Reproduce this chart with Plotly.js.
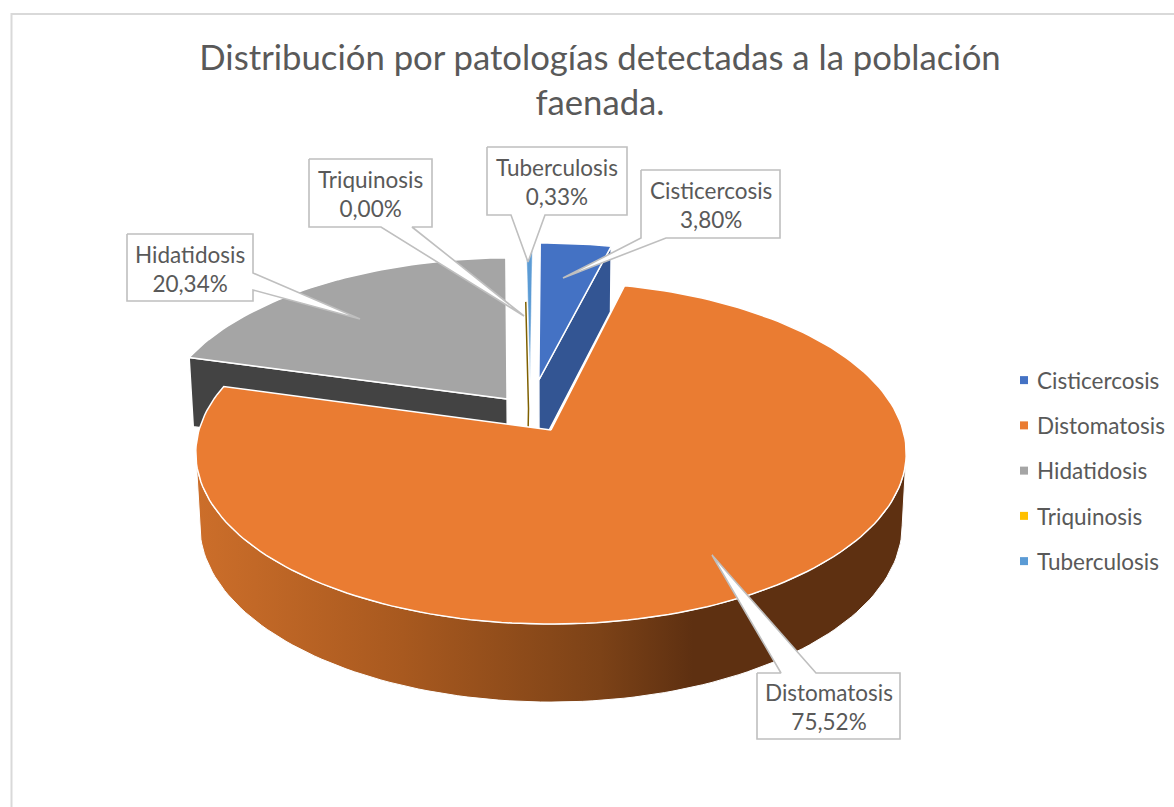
<!DOCTYPE html>
<html><head><meta charset="utf-8">
<script src="https://cdn.plot.ly/plotly-3.0.1.min.js"></script>
<style>html,body{margin:0;padding:0;background:#fff}</style></head>
<body><div id="chart" style="width:1174px;height:807px"></div>
<script>
const categories = ['Cisticercosis','Distomatosis','Hidatidosis','Triquinosis','Tuberculosis'];
const shares = [3.80,75.52,20.34,0.00,0.33];
const topColors = ['#4472C4','#EA7C32','#A5A5A5','#FFC000','#5B9BD5'];
const wallColors = ['#335593','#5E3011','#434343','#7F6000','#41719C'];
const explodeU = [-0.036,0,-0.128,-0.065,-0.062];
const explodeV = [0.31,0,0.189,0.13,0.31];
const calloutBoxes = [[641,780,170,238],[757,900,673,739],[127,253,234,301],[309,432,159,227],[487,627,147,215]];
const calloutSides = ['b','t','r','b','b'];
const calloutBases = [[641,666],[781,816],[273,290],[381,412],[511,545]];
const calloutTips = [[563,278],[712,555],[360,319],[524,316],[528,262]];

const TXT='#595959', FONT='Lato, "Open Sans", sans-serif';
const total = shares.reduce((a,b)=>a+b,0);
function project(u,v,lower){
  const s=1/(1+0.1345*v);
  return lower ? [551+348*u*s, 501.5-173.6*v*s] : [551+352*u*s, 430-168*v*s];
}
function rim(i,deg,lower,r){
  const a=deg*Math.PI/180, k=r===undefined?1:r;
  return project(explodeU[i]+k*Math.sin(a),explodeV[i]+k*Math.cos(a),lower);
}
const spans=[]; let acc=0;
shares.forEach(v=>{const d=v/total*360; spans.push([acc,acc+d]); acc+=d;});

function poly(pts,color,lineColor,lineW,extra){
  return Object.assign({type:'scatter',mode:'lines',x:pts.map(p=>p[0]),y:pts.map(p=>p[1]),fill:'toself',
    fillcolor:color,line:{color:lineColor,width:lineW},showlegend:false,hoverinfo:'skip'},extra||{});
}
function arc(i,a,b,lower){
  const n=Math.max(2,Math.ceil(Math.abs(b-a)/1.5)), out=[];
  for(let j=0;j<=n;j++) out.push(rim(i,a+(b-a)*j/n,lower));
  return out;
}
function topFace(i){ return [project(explodeU[i],explodeV[i])].concat(arc(i,spans[i][0],spans[i][1])).concat([project(explodeU[i],explodeV[i])]); }
function cutFace(i,deg){
  return [project(explodeU[i],explodeV[i]),rim(i,deg),rim(i,deg,true),project(explodeU[i],explodeV[i],true),project(explodeU[i],explodeV[i])];
}
const traces=[];
// walls
traces.push(poly(cutFace(0,spans[0][1]),wallColors[0],'#fff',1.5));
traces.push(poly(cutFace(2,spans[2][0]),wallColors[2],'#fff',1.5));
// tops of the back slices
traces.push(poly(topFace(2),topColors[2],'#fff',1.5));
traces.push(poly(topFace(0),topColors[0],'#fff',1.5));
traces.push(poly(topFace(4),topColors[4],'#fff',0.5));
const tri=[rim(3,spans[3][0],false,0.72),project(explodeU[3],explodeV[3]),project(explodeU[3],explodeV[3]-0.16)];
traces.push({type:'scatter',mode:'lines',x:tri.map(p=>p[0]),y:tri.map(p=>p[1]),line:{color:wallColors[3],width:1.5},showlegend:false,hoverinfo:'skip'});
// orange wall: only the front-facing stretch, between the two silhouette tangents
const oTop=arc(1,97.7,262.3), oBot=arc(1,97.7,262.3,true).reverse();
traces.push(poly(oTop.concat(oBot).concat([oTop[0]]),wallColors[1],'#fff',1,{
  fillgradient:{type:'horizontal',start:197,stop:905,colorscale:[[0,'#CC6E2A'],[0.29,'#A8591F'],[0.57,'#7C4217'],[0.7,'#5E3011'],[1,'#5E3011']]}}));
traces.push(poly(topFace(1),topColors[1],'#fff',1.5));
// callouts
categories.forEach((c,i)=>{
  const [x0,x1,y0,y1]=calloutBoxes[i], b=calloutBases[i], t=calloutTips[i], s=calloutSides[i];
  let pts;
  if(s==='b') pts=[[x0,y0],[x1,y0],[x1,y1],[b[1],y1],t,[b[0],y1],[x0,y1],[x0,y0]];
  else if(s==='t') pts=[[x0,y0],[b[0],y0],t,[b[1],y0],[x1,y0],[x1,y1],[x0,y1],[x0,y0]];
  else pts=[[x0,y0],[x1,y0],[x1,b[0]],t,[x1,b[1]],[x1,y1],[x0,y1],[x0,y0]];
  traces.push(poly(pts,'#FFFFFF','#BFBFBF',1.6));
});
// legend entries
categories.forEach((c,i)=>traces.push({type:'scatter',mode:'markers',x:[null],y:[null],name:c,legendgroup:c,
  marker:{symbol:'square',size:8,color:topColors[i]},hoverinfo:'skip'}));

const annotations=categories.map((c,i)=>{
  const [x0,x1,y0,y1]=calloutBoxes[i];
  return {x:(x0+x1)/2,y:(y0+y1)/2+1,xref:'x',yref:'y',showarrow:false,align:'center',xanchor:'center',yanchor:'middle',
    text:c+'<br>'+shares[i].toFixed(2).replace('.',',')+'%',font:{family:FONT,size:22.5,color:TXT}};
});
const layout={width:1174,height:807,margin:{l:0,r:0,t:0,b:0},paper_bgcolor:'#fff',plot_bgcolor:'#fff',
  xaxis:{range:[0,1174],visible:false,fixedrange:true},
  yaxis:{range:[807,0],visible:false,fixedrange:true},
  title:{text:'Distribución por patologías detectadas a la población<br>faenada.',x:600/1174,xanchor:'center',xref:'paper',y:1-70/807,yanchor:'top',yref:'paper',
    font:{family:FONT,size:34.7,color:TXT}},
  legend:{x:997/1174,xanchor:'left',y:1-359/807,yanchor:'top',traceorder:'grouped',tracegroupgap:13,font:{family:FONT,size:22.5,color:TXT},bgcolor:'rgba(0,0,0,0)'},
  annotations,
  shapes:[{type:'rect',xref:'x',yref:'y',x0:11.5,x1:1300,y0:14,y1:1000,line:{color:'#D9D9D9',width:2},layer:'below'}]
};
Plotly.newPlot('chart',traces,layout,{displayModeBar:false,staticPlot:true}).then(gd=>{
  gd.querySelectorAll('.legendsymbols').forEach(e=>e.setAttribute('transform','translate(7,0)'));
});
</script></body></html>
